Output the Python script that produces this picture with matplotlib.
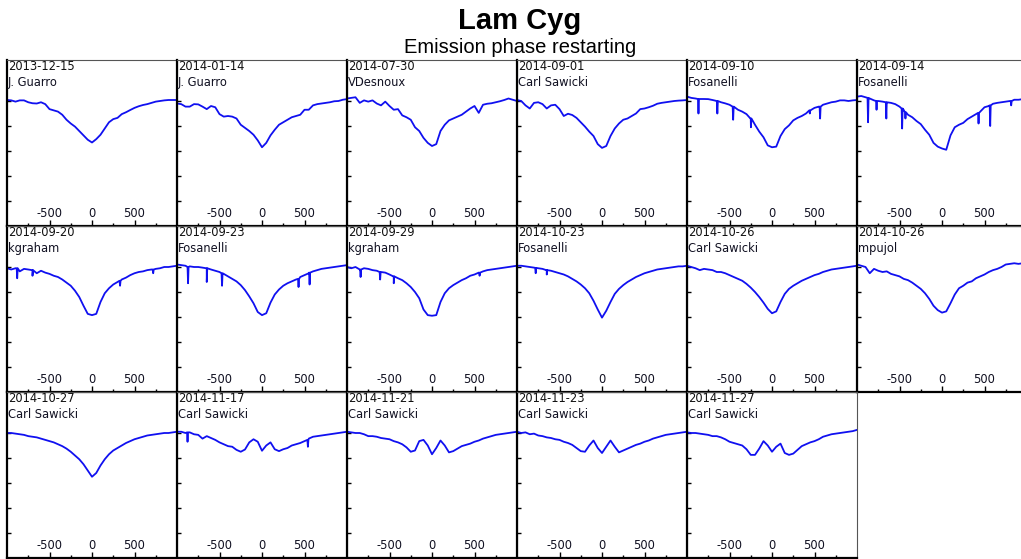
#!/usr/bin/env python

import numpy as np
import matplotlib
matplotlib.use("Agg")
import matplotlib.pyplot as plt

plt.rcParams["axes.unicode_minus"] = False

TITLE = "Lam Cyg"
SUBTITLE = "Emission phase restarting"

# velocity grid (km/s) shared by every spectrum
vel = [-1000, -950, -900, -850, -800, -750, -700, -650, -600, -550, -500,
       -450, -400, -350, -300, -250, -200, -150, -100, -50, 0,
       50, 100, 150, 200, 250, 300, 350, 400, 450, 500,
       550, 600, 650, 700, 750, 800, 850, 900, 950, 1000]

dates = ["2013-12-15", "2014-01-14", "2014-07-30", "2014-09-01", "2014-09-10", "2014-09-14",
         "2014-09-20", "2014-09-23", "2014-09-29", "2014-10-23", "2014-10-26", "2014-10-26",
         "2014-10-27", "2014-11-17", "2014-11-21", "2014-11-23", "2014-11-27"]
observers = ["J. Guarro", "J. Guarro", "VDesnoux", "Carl Sawicki", "Fosanelli", "Fosanelli",
             "kgraham", "Fosanelli", "kgraham", "Fosanelli", "Carl Sawicki", "mpujol",
             "Carl Sawicki", "Carl Sawicki", "Carl Sawicki", "Carl Sawicki", "Carl Sawicki"]

# relative flux, one list per spectrum
flux_20131215 = [1.008, 1.005, 0.995, 1.005, 1.005, 0.99, 0.982, 0.98, 0.99, 0.975, 0.935,
                 0.925, 0.915, 0.89, 0.85, 0.82, 0.795, 0.76, 0.725, 0.69, 0.668,
                 0.695, 0.73, 0.78, 0.83, 0.855, 0.865, 0.895, 0.91, 0.928, 0.945,
                 0.958, 0.968, 0.975, 0.985, 0.995, 1.0, 1.005, 1.008, 1.008, 1.008]
flux_20140114 = [0.98, 0.975, 0.955, 0.955, 0.975, 0.973, 0.955, 0.935, 0.96, 0.95, 0.895,
                 0.875, 0.88, 0.875, 0.86, 0.81, 0.785, 0.76, 0.73, 0.685, 0.63,
                 0.665, 0.725, 0.77, 0.81, 0.83, 0.85, 0.87, 0.88, 0.89, 0.93,
                 0.93, 0.965, 0.975, 0.98, 0.985, 0.99, 0.998, 1.0, 1.01, 1.015]
flux_20140730 = [1.02, 1.025, 1.03, 0.985, 1.005, 0.995, 1.005, 0.98, 0.965, 0.995, 0.96,
                 0.93, 0.935, 0.885, 0.87, 0.85, 0.79, 0.76, 0.705, 0.665, 0.64,
                 0.655, 0.76, 0.81, 0.845, 0.86, 0.875, 0.89, 0.915, 0.94, 0.96,
                 0.905, 0.97, 0.978, 0.982, 0.99, 0.998, 1.008, 1.02, 1.01, 1.0]
flux_20140901 = [1.008, 1.0, 0.965, 0.94, 0.985, 0.99, 0.975, 0.94, 0.965, 0.97, 0.935,
                 0.88, 0.898, 0.888, 0.865, 0.83, 0.795, 0.755, 0.72, 0.655, 0.625,
                 0.64, 0.72, 0.78, 0.82, 0.85, 0.86, 0.88, 0.9, 0.935, 0.94,
                 0.95, 0.962, 0.978, 0.985, 0.99, 0.995, 1.0, 1.003, 1.005, 1.008]
flux_20140910 = [1.035, 1.025, 1.02, 1.016, 1.016, 1.015, 1.008, 1.0, 0.99, 0.981, 0.97,
                 0.955, 0.93, 0.915, 0.895, 0.86, 0.81, 0.755, 0.71, 0.645, 0.63,
                 0.635, 0.72, 0.775, 0.805, 0.845, 0.865, 0.88, 0.9, 0.925, 0.945,
                 0.955, 0.97, 0.98, 0.99, 0.995, 1.005, 1.005, 1.0, 1.005, 1.008]
flux_20140914 = [1.035, 1.04, 1.03, 1.02, 1.005, 1.0, 0.995, 0.99, 0.985, 0.975, 0.955,
                 0.928, 0.89, 0.87, 0.84, 0.815, 0.77, 0.73, 0.665, 0.635, 0.62,
                 0.61, 0.725, 0.79, 0.81, 0.825, 0.855, 0.875, 0.895, 0.915, 0.95,
                 0.96, 0.978, 0.985, 0.99, 0.995, 1.0, 1.01, 1.01, 1.015, 1.02]
flux_20140920 = [0.99, 0.98, 0.99, 0.965, 0.985, 0.98, 0.975, 0.95, 0.97, 0.955, 0.945,
                 0.93, 0.92, 0.9, 0.875, 0.85, 0.81, 0.76, 0.69, 0.625, 0.615,
                 0.625, 0.72, 0.79, 0.83, 0.86, 0.88, 0.9, 0.915, 0.935, 0.95,
                 0.96, 0.965, 0.975, 0.98, 0.985, 0.99, 1.0, 1.0, 1.005, 1.01]
flux_20140923 = [1.02, 1.015, 1.01, 1.005, 1.0, 1.0, 0.995, 0.99, 0.98, 0.97, 0.96,
                 0.945, 0.925, 0.905, 0.885, 0.855, 0.815, 0.765, 0.71, 0.64, 0.615,
                 0.63, 0.715, 0.78, 0.82, 0.85, 0.87, 0.885, 0.9, 0.92, 0.935,
                 0.95, 0.965, 0.975, 0.985, 0.99, 0.995, 1.0, 1.005, 1.01, 1.015]
flux_20140929 = [1.0, 0.99, 1.0, 0.98, 0.99, 0.985, 0.975, 0.97, 0.96, 0.955, 0.94,
                 0.925, 0.91, 0.895, 0.87, 0.84, 0.8, 0.75, 0.66, 0.615, 0.61,
                 0.615, 0.72, 0.79, 0.83, 0.855, 0.875, 0.895, 0.91, 0.93, 0.94,
                 0.955, 0.965, 0.975, 0.98, 0.985, 0.99, 0.995, 1.0, 1.005, 1.01]
flux_20141023 = [1.01, 1.01, 1.005, 1.0, 0.995, 0.99, 0.985, 0.975, 0.97, 0.96, 0.95,
                 0.94, 0.925, 0.905, 0.885, 0.86, 0.83, 0.79, 0.73, 0.66, 0.595,
                 0.65, 0.72, 0.785, 0.825, 0.855, 0.88, 0.9, 0.92, 0.935, 0.95,
                 0.96, 0.97, 0.98, 0.985, 0.99, 0.995, 1.0, 1.005, 1.005, 1.01]
flux_20141026a = [1.01, 1.0, 0.99, 0.975, 0.985, 0.98, 0.975, 0.96, 0.96, 0.95, 0.935,
                  0.92, 0.905, 0.89, 0.865, 0.835, 0.8, 0.76, 0.715, 0.665, 0.63,
                  0.645, 0.72, 0.785, 0.825, 0.85, 0.87, 0.89, 0.905, 0.92, 0.935,
                  0.945, 0.96, 0.97, 0.98, 0.985, 0.99, 0.995, 1.0, 1.005, 1.01]
flux_20141026b = [1.02, 1.01, 1.0, 0.95, 0.985, 0.97, 0.96, 0.965, 0.945, 0.935, 0.925,
                  0.905, 0.895, 0.875, 0.85, 0.825, 0.79, 0.745, 0.69, 0.655, 0.635,
                  0.645, 0.71, 0.78, 0.83, 0.85, 0.875, 0.885, 0.91, 0.925, 0.94,
                  0.96, 0.975, 0.985, 1.0, 1.02, 1.025, 1.03, 1.025, 1.03, 1.035]
flux_20141027 = [1.0, 1.0, 0.995, 0.99, 0.985, 0.975, 0.97, 0.965, 0.955, 0.945, 0.935,
                 0.925, 0.91, 0.895, 0.875, 0.85, 0.82, 0.79, 0.75, 0.7, 0.65,
                 0.68, 0.74, 0.79, 0.83, 0.86, 0.88, 0.9, 0.92, 0.935, 0.95,
                 0.96, 0.97, 0.98, 0.985, 0.99, 0.995, 1.0, 1.0, 1.005, 1.01]
flux_20141117 = [1.01, 1.01, 1.0, 1.005, 0.99, 0.985, 0.955, 0.975, 0.96, 0.945, 0.925,
                 0.91, 0.895, 0.89, 0.865, 0.85, 0.868, 0.925, 0.95, 0.93, 0.858,
                 0.9, 0.925, 0.87, 0.855, 0.87, 0.88, 0.9, 0.91, 0.92, 0.935,
                 0.955, 0.97, 0.975, 0.98, 0.985, 0.99, 0.995, 1.0, 1.005, 1.01]
flux_20141121 = [1.01, 1.005, 1.0, 1.0, 0.99, 0.975, 0.975, 0.97, 0.96, 0.955, 0.95,
                 0.935, 0.925, 0.91, 0.885, 0.85, 0.86, 0.935, 0.945, 0.9, 0.83,
                 0.88, 0.94, 0.9, 0.845, 0.855, 0.875, 0.895, 0.905, 0.915, 0.93,
                 0.94, 0.955, 0.965, 0.975, 0.985, 0.99, 0.995, 1.0, 1.005, 1.01]
flux_20141123 = [1.01, 1.0, 1.005, 0.99, 0.995, 0.98, 0.975, 0.965, 0.96, 0.95, 0.945,
                 0.93, 0.92, 0.905, 0.88, 0.855, 0.85, 0.9, 0.94, 0.88, 0.84,
                 0.89, 0.94, 0.89, 0.845, 0.86, 0.875, 0.89, 0.905, 0.915, 0.93,
                 0.94, 0.955, 0.965, 0.975, 0.985, 0.99, 0.995, 1.0, 1.005, 1.01]
flux_20141127 = [1.005, 1.0, 1.0, 0.995, 0.99, 0.985, 0.975, 0.975, 0.965, 0.95, 0.93,
                 0.92, 0.91, 0.9, 0.87, 0.825, 0.825, 0.875, 0.935, 0.9, 0.85,
                 0.89, 0.915, 0.84, 0.825, 0.835, 0.865, 0.895, 0.91, 0.925, 0.935,
                 0.95, 0.97, 0.98, 0.99, 0.995, 1.0, 1.005, 1.01, 1.015, 1.025]

fluxes = [flux_20131215, flux_20140114, flux_20140730, flux_20140901, flux_20140910,
          flux_20140914, flux_20140920, flux_20140923, flux_20140929, flux_20141023,
          flux_20141026a, flux_20141026b, flux_20141027, flux_20141117, flux_20141121,
          flux_20141123, flux_20141127]

# narrow telluric lines: (velocity, local continuum, bottom of the line)
tellurics = {
    4: [(-865, 1.016, 0.90), (-643, 1.0, 0.90), (-457, 0.955, 0.85), (-248, 0.86, 0.79),
        (445, 0.925, 0.90), (566, 0.955, 0.86)],
    5: [(-870, 1.025, 0.83), (-770, 1.0, 0.93), (-655, 0.99, 0.86), (-469, 0.94, 0.78),
        (-430, 0.91, 0.86), (430, 0.905, 0.82), (567, 0.965, 0.80), (814, 1.0, 0.965)],
    6: [(-880, 0.99, 0.91), (-700, 0.975, 0.93), (330, 0.89, 0.85), (720, 0.98, 0.95)],
    7: [(-870, 1.0, 0.87), (-650, 0.99, 0.88), (-470, 0.95, 0.85), (430, 0.905, 0.84),
        (560, 0.955, 0.86)],
    8: [(-840, 0.98, 0.92), (-610, 0.96, 0.90), (-450, 0.925, 0.87), (560, 0.955, 0.93)],
    9: [(-780, 0.993, 0.95), (-650, 0.975, 0.94)],
    13: [(-876, 1.005, 0.93), (540, 0.945, 0.89)],
}

FIG_W, FIG_H = 1021, 559
PANEL_W, PANEL_H = 170, 166
X0, Y0 = 7, 60


def spectrum(i):
    """Merge the coarse grid with the narrow telluric lines"""
    v = list(vel)
    f = list(fluxes[i])
    for dv, top, bottom in tellurics.get(i, []):
        v += [dv - 6, dv, dv + 6]
        f += [top, bottom, top]
    order = np.argsort(v, kind="stable")
    return np.array(v)[order], np.array(f)[order]


def panel(fig, i):
    row, col = divmod(i, 6)
    left = (X0 + col * PANEL_W) / FIG_W
    bottom = 1 - (Y0 + (row + 1) * PANEL_H) / FIG_H
    ax = fig.add_axes([left, bottom, PANEL_W / FIG_W, PANEL_H / FIG_H])
    ax.set_facecolor("none")

    v, f = spectrum(i)
    ax.plot(v, f, color="#1010f0", lw=1.3)
    ax.set_xlim(-1000, 1000)
    ax.set_ylim(0, PANEL_H / 125)

    ax.set_xticks([-500, 0, 500])
    ax.set_xticks([-750, -250, 250, 750], minor=True)
    ax.set_yticks([0.2, 0.4, 0.6, 0.8, 1.0])
    ax.tick_params(axis="x", which="major", direction="in", length=4, width=1,
                   pad=-14, labelsize=8.3, labelcolor="#111122")
    ax.tick_params(axis="x", which="minor", direction="in", length=2.5, width=1)
    ax.tick_params(axis="y", direction="in", length=3, width=1, labelleft=False)

    for s in ["left", "bottom"]:
        ax.spines[s].set_linewidth(1.6)
        ax.spines[s].set_color("black")
    for s in ["top", "right"]:
        ax.spines[s].set_linewidth(0.8)
        ax.spines[s].set_color("#555555")

    ax.text(0.006, 0.998, dates[i], transform=ax.transAxes, ha="left", va="top",
            fontsize=8.3, color="#111111")
    ax.text(0.006, 0.905, observers[i], transform=ax.transAxes, ha="left", va="top",
            fontsize=8.3, color="#111122")
    return ax


def main():
    fig = plt.figure(figsize=(FIG_W / 100, FIG_H / 100), dpi=100)
    fig.text(0.509, 0.948, TITLE, ha="center", va="baseline", fontsize=21,
             fontweight="bold", family="Liberation Sans")
    fig.text(0.509, 0.906, SUBTITLE, ha="center", va="baseline", fontsize=14.5,
             family="Liberation Sans")
    for i in range(len(fluxes)):
        panel(fig, i)
    fig.savefig("out.png", dpi=100)


if __name__ == "__main__":
    main()
